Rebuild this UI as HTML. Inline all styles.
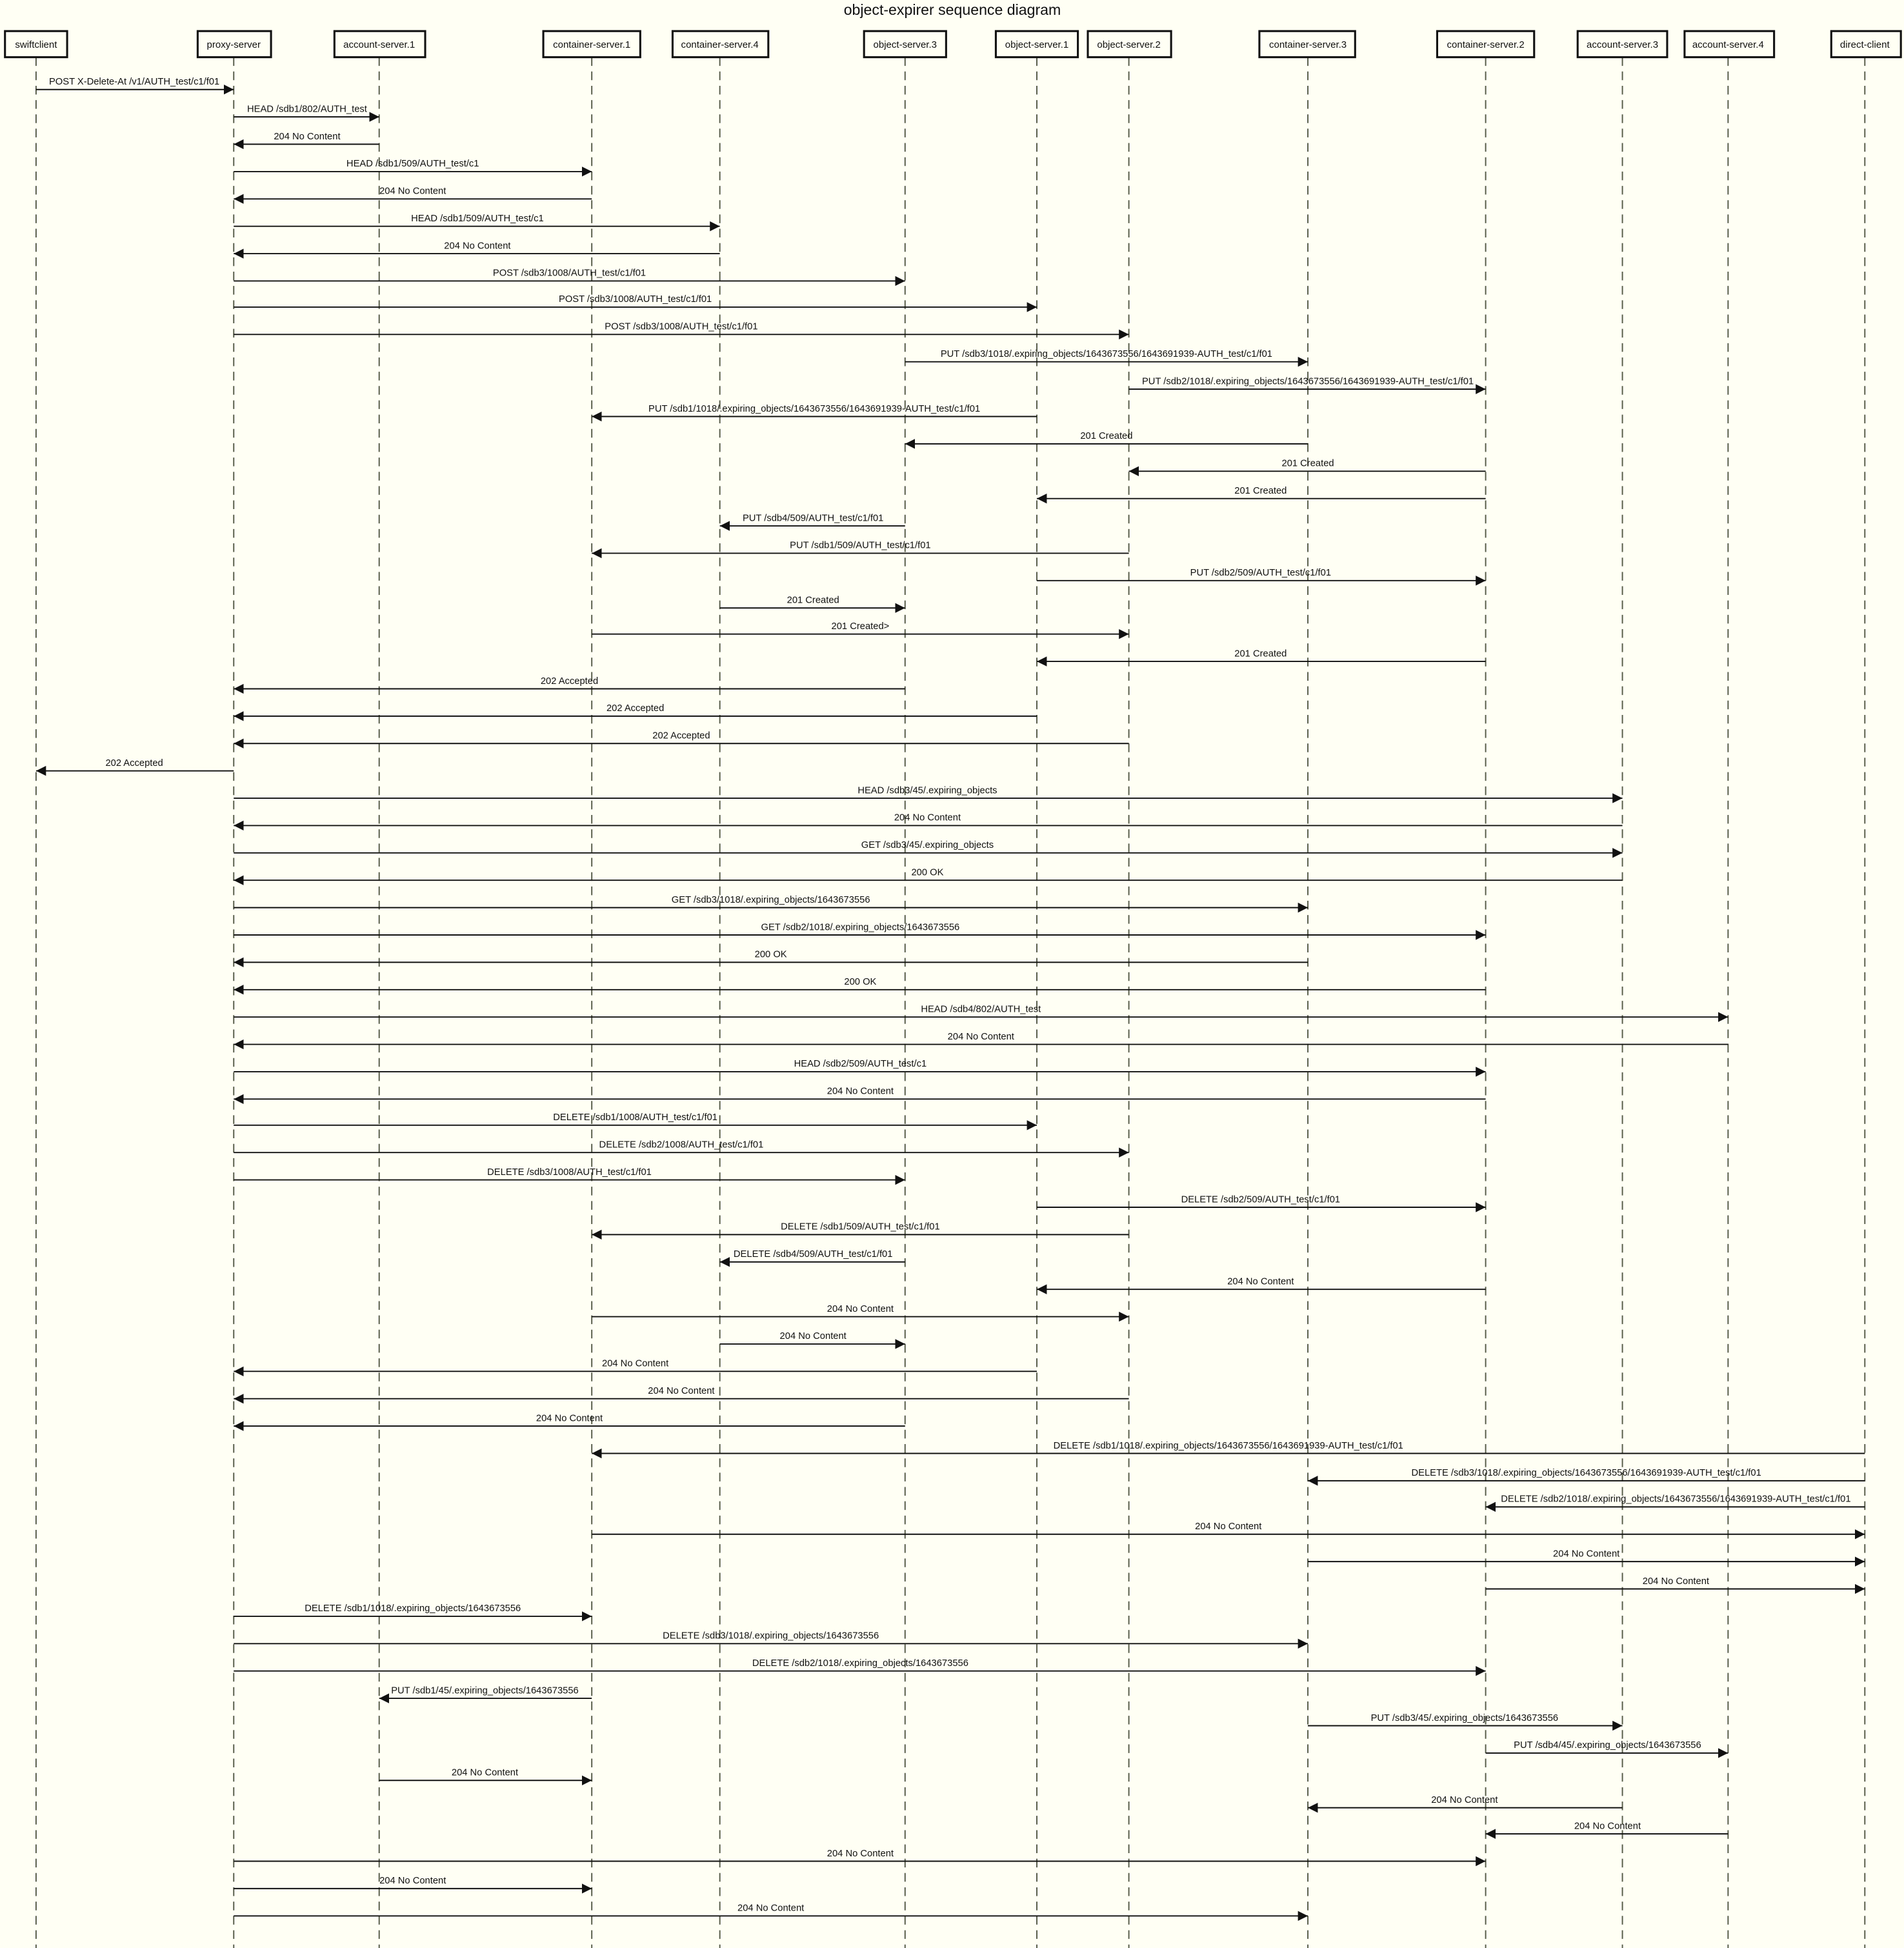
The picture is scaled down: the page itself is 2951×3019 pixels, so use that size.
<!DOCTYPE html>
<html><head><meta charset="utf-8"><style>
html,body{margin:0;padding:0;background:#fffff4;}
svg{display:block;}
text{font-family:"Liberation Sans",sans-serif;fill:#111;}
.m{font-size:7.65px;text-anchor:middle;}
.p{font-size:7.8px;text-anchor:middle;}
.l{stroke:#111;stroke-width:1;}
.ll{stroke:#555a48;stroke-width:1;stroke-dasharray:7,4.5;}
.b{fill:#fffff4;stroke:#111;stroke-width:1.6;}
</style></head><body>
<svg width="2951" height="3019" viewBox="0 0 1531.5 1566.8" xmlns="http://www.w3.org/2000/svg">
<defs><marker id="a" markerWidth="8" markerHeight="8" refX="8" refY="4" orient="auto" markerUnits="userSpaceOnUse"><path d="M0,0 L8,4 L0,8 Z" fill="#111"/></marker></defs>
<rect width="1531.5" height="1566.8" fill="#fffff4"/>
<text x="766" y="12" style="font-size:12px;text-anchor:middle">object-expirer sequence diagram</text>
<g>
<line class="ll" x1="29" y1="46" x2="29" y2="1567"/>
<line class="ll" x1="188" y1="46" x2="188" y2="1567"/>
<line class="ll" x1="305" y1="46" x2="305" y2="1567"/>
<line class="ll" x1="476" y1="46" x2="476" y2="1567"/>
<line class="ll" x1="579" y1="46" x2="579" y2="1567"/>
<line class="ll" x1="728" y1="46" x2="728" y2="1567"/>
<line class="ll" x1="834" y1="46" x2="834" y2="1567"/>
<line class="ll" x1="908" y1="46" x2="908" y2="1567"/>
<line class="ll" x1="1052" y1="46" x2="1052" y2="1567"/>
<line class="ll" x1="1195" y1="46" x2="1195" y2="1567"/>
<line class="ll" x1="1305" y1="46" x2="1305" y2="1567"/>
<line class="ll" x1="1390" y1="46" x2="1390" y2="1567"/>
<line class="ll" x1="1500" y1="46" x2="1500" y2="1567"/>
</g>
<g>
<rect class="b" x="4" y="25" width="50" height="21"/><text class="p" x="29" y="38.5">swiftclient</text>
<rect class="b" x="159" y="25" width="59" height="21"/><text class="p" x="188" y="38.5">proxy-server</text>
<rect class="b" x="269" y="25" width="73" height="21"/><text class="p" x="305" y="38.5">account-server.1</text>
<rect class="b" x="437" y="25" width="78" height="21"/><text class="p" x="476" y="38.5">container-server.1</text>
<rect class="b" x="541" y="25" width="77" height="21"/><text class="p" x="579" y="38.5">container-server.4</text>
<rect class="b" x="695" y="25" width="66" height="21"/><text class="p" x="728" y="38.5">object-server.3</text>
<rect class="b" x="801" y="25" width="66" height="21"/><text class="p" x="834" y="38.5">object-server.1</text>
<rect class="b" x="875" y="25" width="67" height="21"/><text class="p" x="908" y="38.5">object-server.2</text>
<rect class="b" x="1013" y="25" width="77" height="21"/><text class="p" x="1052" y="38.5">container-server.3</text>
<rect class="b" x="1156" y="25" width="78" height="21"/><text class="p" x="1195" y="38.5">container-server.2</text>
<rect class="b" x="1269" y="25" width="72" height="21"/><text class="p" x="1305" y="38.5">account-server.3</text>
<rect class="b" x="1355" y="25" width="72" height="21"/><text class="p" x="1390" y="38.5">account-server.4</text>
<rect class="b" x="1473" y="25" width="56" height="21"/><text class="p" x="1500" y="38.5">direct-client</text>
</g>
<g marker-end="url(#a)">
<line class="l" x1="29" y1="72" x2="188" y2="72"/>
<line class="l" x1="188" y1="94" x2="305" y2="94"/>
<line class="l" x1="305" y1="116" x2="188" y2="116"/>
<line class="l" x1="188" y1="138" x2="476" y2="138"/>
<line class="l" x1="476" y1="160" x2="188" y2="160"/>
<line class="l" x1="188" y1="182" x2="579" y2="182"/>
<line class="l" x1="579" y1="204" x2="188" y2="204"/>
<line class="l" x1="188" y1="226" x2="728" y2="226"/>
<line class="l" x1="188" y1="247" x2="834" y2="247"/>
<line class="l" x1="188" y1="269" x2="908" y2="269"/>
<line class="l" x1="728" y1="291" x2="1052" y2="291"/>
<line class="l" x1="908" y1="313" x2="1195" y2="313"/>
<line class="l" x1="834" y1="335" x2="476" y2="335"/>
<line class="l" x1="1052" y1="357" x2="728" y2="357"/>
<line class="l" x1="1195" y1="379" x2="908" y2="379"/>
<line class="l" x1="1195" y1="401" x2="834" y2="401"/>
<line class="l" x1="728" y1="423" x2="579" y2="423"/>
<line class="l" x1="908" y1="445" x2="476" y2="445"/>
<line class="l" x1="834" y1="467" x2="1195" y2="467"/>
<line class="l" x1="579" y1="489" x2="728" y2="489"/>
<line class="l" x1="476" y1="510" x2="908" y2="510"/>
<line class="l" x1="1195" y1="532" x2="834" y2="532"/>
<line class="l" x1="728" y1="554" x2="188" y2="554"/>
<line class="l" x1="834" y1="576" x2="188" y2="576"/>
<line class="l" x1="908" y1="598" x2="188" y2="598"/>
<line class="l" x1="188" y1="620" x2="29" y2="620"/>
<line class="l" x1="188" y1="642" x2="1305" y2="642"/>
<line class="l" x1="1305" y1="664" x2="188" y2="664"/>
<line class="l" x1="188" y1="686" x2="1305" y2="686"/>
<line class="l" x1="1305" y1="708" x2="188" y2="708"/>
<line class="l" x1="188" y1="730" x2="1052" y2="730"/>
<line class="l" x1="188" y1="752" x2="1195" y2="752"/>
<line class="l" x1="1052" y1="774" x2="188" y2="774"/>
<line class="l" x1="1195" y1="796" x2="188" y2="796"/>
<line class="l" x1="188" y1="818" x2="1390" y2="818"/>
<line class="l" x1="1390" y1="840" x2="188" y2="840"/>
<line class="l" x1="188" y1="862" x2="1195" y2="862"/>
<line class="l" x1="1195" y1="884" x2="188" y2="884"/>
<line class="l" x1="188" y1="905" x2="834" y2="905"/>
<line class="l" x1="188" y1="927" x2="908" y2="927"/>
<line class="l" x1="188" y1="949" x2="728" y2="949"/>
<line class="l" x1="834" y1="971" x2="1195" y2="971"/>
<line class="l" x1="908" y1="993" x2="476" y2="993"/>
<line class="l" x1="728" y1="1015" x2="579" y2="1015"/>
<line class="l" x1="1195" y1="1037" x2="834" y2="1037"/>
<line class="l" x1="476" y1="1059" x2="908" y2="1059"/>
<line class="l" x1="579" y1="1081" x2="728" y2="1081"/>
<line class="l" x1="834" y1="1103" x2="188" y2="1103"/>
<line class="l" x1="908" y1="1125" x2="188" y2="1125"/>
<line class="l" x1="728" y1="1147" x2="188" y2="1147"/>
<line class="l" x1="1500" y1="1169" x2="476" y2="1169"/>
<line class="l" x1="1500" y1="1191" x2="1052" y2="1191"/>
<line class="l" x1="1500" y1="1212" x2="1195" y2="1212"/>
<line class="l" x1="476" y1="1234" x2="1500" y2="1234"/>
<line class="l" x1="1052" y1="1256" x2="1500" y2="1256"/>
<line class="l" x1="1195" y1="1278" x2="1500" y2="1278"/>
<line class="l" x1="188" y1="1300" x2="476" y2="1300"/>
<line class="l" x1="188" y1="1322" x2="1052" y2="1322"/>
<line class="l" x1="188" y1="1344" x2="1195" y2="1344"/>
<line class="l" x1="476" y1="1366" x2="305" y2="1366"/>
<line class="l" x1="1052" y1="1388" x2="1305" y2="1388"/>
<line class="l" x1="1195" y1="1410" x2="1390" y2="1410"/>
<line class="l" x1="305" y1="1432" x2="476" y2="1432"/>
<line class="l" x1="1305" y1="1454" x2="1052" y2="1454"/>
<line class="l" x1="1390" y1="1475" x2="1195" y2="1475"/>
<line class="l" x1="188" y1="1497" x2="1195" y2="1497"/>
<line class="l" x1="188" y1="1519" x2="476" y2="1519"/>
<line class="l" x1="188" y1="1541" x2="1052" y2="1541"/>
</g>
<g>
<text class="m" x="108" y="68">POST X-Delete-At /v1/AUTH_test/c1/f01</text>
<text class="m" x="247" y="90">HEAD /sdb1/802/AUTH_test</text>
<text class="m" x="247" y="112">204 No Content</text>
<text class="m" x="332" y="134">HEAD /sdb1/509/AUTH_test/c1</text>
<text class="m" x="332" y="156">204 No Content</text>
<text class="m" x="384" y="178">HEAD /sdb1/509/AUTH_test/c1</text>
<text class="m" x="384" y="200">204 No Content</text>
<text class="m" x="458" y="222">POST /sdb3/1008/AUTH_test/c1/f01</text>
<text class="m" x="511" y="243">POST /sdb3/1008/AUTH_test/c1/f01</text>
<text class="m" x="548" y="265">POST /sdb3/1008/AUTH_test/c1/f01</text>
<text class="m" x="890" y="287">PUT /sdb3/1018/.expiring_objects/1643673556/1643691939-AUTH_test/c1/f01</text>
<text class="m" x="1052" y="309">PUT /sdb2/1018/.expiring_objects/1643673556/1643691939-AUTH_test/c1/f01</text>
<text class="m" x="655" y="331">PUT /sdb1/1018/.expiring_objects/1643673556/1643691939-AUTH_test/c1/f01</text>
<text class="m" x="890" y="353">201 Created</text>
<text class="m" x="1052" y="375">201 Created</text>
<text class="m" x="1014" y="397">201 Created</text>
<text class="m" x="654" y="419">PUT /sdb4/509/AUTH_test/c1/f01</text>
<text class="m" x="692" y="441">PUT /sdb1/509/AUTH_test/c1/f01</text>
<text class="m" x="1014" y="463">PUT /sdb2/509/AUTH_test/c1/f01</text>
<text class="m" x="654" y="485">201 Created</text>
<text class="m" x="692" y="506">201 Created&gt;</text>
<text class="m" x="1014" y="528">201 Created</text>
<text class="m" x="458" y="550">202 Accepted</text>
<text class="m" x="511" y="572">202 Accepted</text>
<text class="m" x="548" y="594">202 Accepted</text>
<text class="m" x="108" y="616">202 Accepted</text>
<text class="m" x="746" y="638">HEAD /sdb3/45/.expiring_objects</text>
<text class="m" x="746" y="660">204 No Content</text>
<text class="m" x="746" y="682">GET /sdb3/45/.expiring_objects</text>
<text class="m" x="746" y="704">200 OK</text>
<text class="m" x="620" y="726">GET /sdb3/1018/.expiring_objects/1643673556</text>
<text class="m" x="692" y="748">GET /sdb2/1018/.expiring_objects/1643673556</text>
<text class="m" x="620" y="770">200 OK</text>
<text class="m" x="692" y="792">200 OK</text>
<text class="m" x="789" y="814">HEAD /sdb4/802/AUTH_test</text>
<text class="m" x="789" y="836">204 No Content</text>
<text class="m" x="692" y="858">HEAD /sdb2/509/AUTH_test/c1</text>
<text class="m" x="692" y="880">204 No Content</text>
<text class="m" x="511" y="901">DELETE /sdb1/1008/AUTH_test/c1/f01</text>
<text class="m" x="548" y="923">DELETE /sdb2/1008/AUTH_test/c1/f01</text>
<text class="m" x="458" y="945">DELETE /sdb3/1008/AUTH_test/c1/f01</text>
<text class="m" x="1014" y="967">DELETE /sdb2/509/AUTH_test/c1/f01</text>
<text class="m" x="692" y="989">DELETE /sdb1/509/AUTH_test/c1/f01</text>
<text class="m" x="654" y="1011">DELETE /sdb4/509/AUTH_test/c1/f01</text>
<text class="m" x="1014" y="1033">204 No Content</text>
<text class="m" x="692" y="1055">204 No Content</text>
<text class="m" x="654" y="1077">204 No Content</text>
<text class="m" x="511" y="1099">204 No Content</text>
<text class="m" x="548" y="1121">204 No Content</text>
<text class="m" x="458" y="1143">204 No Content</text>
<text class="m" x="988" y="1165">DELETE /sdb1/1018/.expiring_objects/1643673556/1643691939-AUTH_test/c1/f01</text>
<text class="m" x="1276" y="1187">DELETE /sdb3/1018/.expiring_objects/1643673556/1643691939-AUTH_test/c1/f01</text>
<text class="m" x="1348" y="1208">DELETE /sdb2/1018/.expiring_objects/1643673556/1643691939-AUTH_test/c1/f01</text>
<text class="m" x="988" y="1230">204 No Content</text>
<text class="m" x="1276" y="1252">204 No Content</text>
<text class="m" x="1348" y="1274">204 No Content</text>
<text class="m" x="332" y="1296">DELETE /sdb1/1018/.expiring_objects/1643673556</text>
<text class="m" x="620" y="1318">DELETE /sdb3/1018/.expiring_objects/1643673556</text>
<text class="m" x="692" y="1340">DELETE /sdb2/1018/.expiring_objects/1643673556</text>
<text class="m" x="390" y="1362">PUT /sdb1/45/.expiring_objects/1643673556</text>
<text class="m" x="1178" y="1384">PUT /sdb3/45/.expiring_objects/1643673556</text>
<text class="m" x="1293" y="1406">PUT /sdb4/45/.expiring_objects/1643673556</text>
<text class="m" x="390" y="1428">204 No Content</text>
<text class="m" x="1178" y="1450">204 No Content</text>
<text class="m" x="1293" y="1471">204 No Content</text>
<text class="m" x="692" y="1493">204 No Content</text>
<text class="m" x="332" y="1515">204 No Content</text>
<text class="m" x="620" y="1537">204 No Content</text>
</g>
</svg>
</body></html>
